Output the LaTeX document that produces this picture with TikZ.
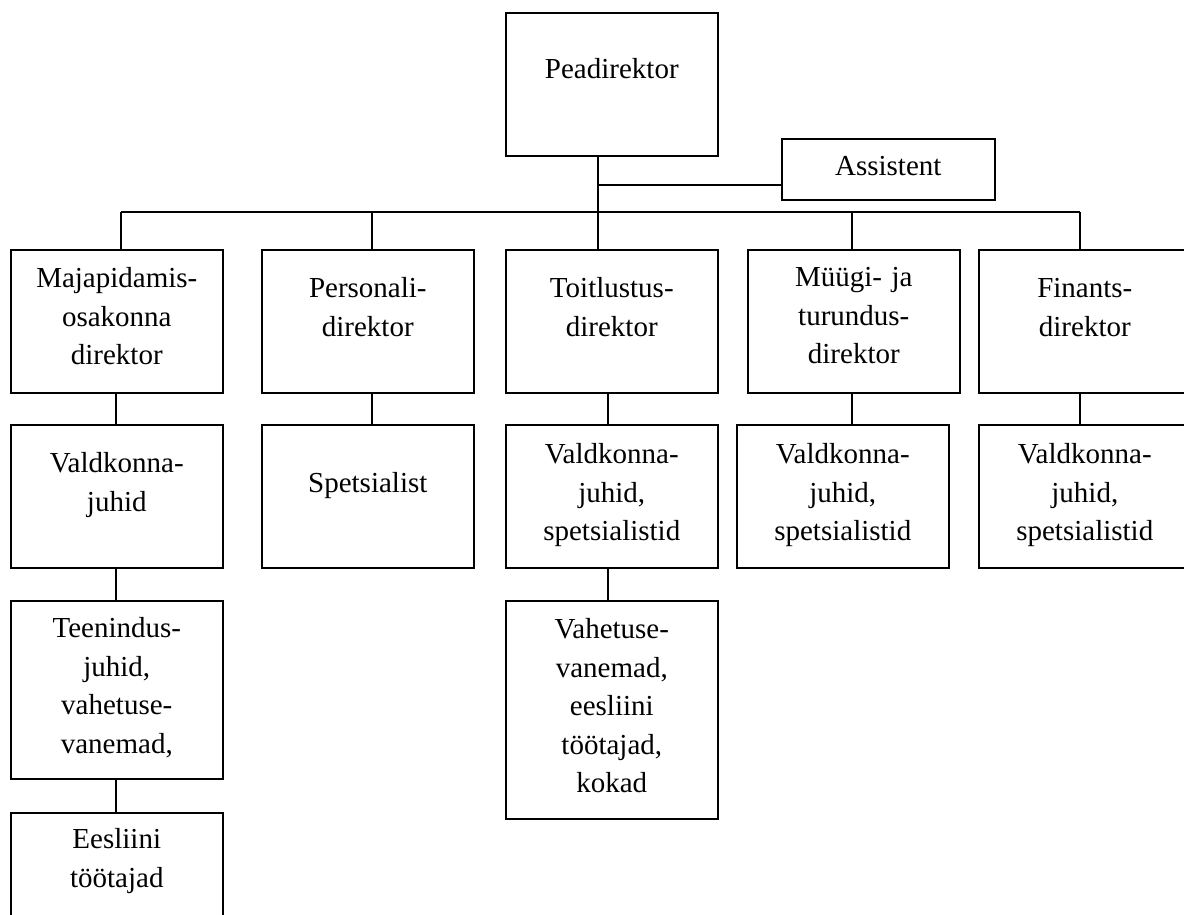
\documentclass[tikz,border=0pt]{standalone}
\usepackage{fontspec}
\setmainfont{Liberation Serif}
\usepackage{xcolor}
\usetikzlibrary{positioning, calc}

\tikzset{
	box/.style 2 args={draw, line width=1.6pt, anchor=north west, inner sep=0pt,
		text width=212pt, align=center, font=\fontsize{29}{38.5}\selectfont,
		text height=#1, text depth=#2},
	link/.style={line width=1.6pt}
}

\begin{document}
\begin{tikzpicture}[x=1pt, y=-1pt]
		\useasboundingbox (0,0) rectangle (1184,915);

		\node[box={66pt}{77pt}] (Peadirektor) at (505,12) {Peadirektor};
		\node[box={37pt}{24pt}, text width=213pt] (Assistent) at (781,138) {Assistent};

		\node[box={38pt}{105pt}] (Majapidamis) at (10,249) {Majapidamis-\\osakonna\\direktor};
		\node[box={48pt}{95pt}] (Personali) at (261,249) {Personali-\\direktor};
		\node[box={48pt}{95pt}] (Toitlustus) at (505,249) {Toitlustus-\\direktor};
		\node[box={37pt}{106pt}] (Muugi) at (747,249) {Müügi- ja\\turundus-\\direktor};
		\node[box={48pt}{95pt}] (Finants) at (978,249) {Finants-\\direktor};

		\node[box={48pt}{95pt}] (MajValdkond) at (10,424) {Valdkonna-\\juhid};
		\node[box={68pt}{75pt}] (Spetsialist) at (261,424) {Spetsialist};
		\node[box={39pt}{104pt}] (ToitValdkond) at (505,424) {Valdkonna-\\juhid,\\spetsialistid};
		\node[box={39pt}{104pt}] (MuugiValdkond) at (736,424) {Valdkonna-\\juhid,\\spetsialistid};
		\node[box={39pt}{104pt}] (FinValdkond) at (978,424) {Valdkonna-\\juhid,\\spetsialistid};

		\node[box={37pt}{141pt}] (Teenindus) at (10,600) {Teenindus-\\juhid,\\vahetuse-\\vanemad,};
		\node[box={38pt}{180pt}] (Vahetus) at (505,600) {Vahetuse-\\vanemad,\\eesliini\\töötajad,\\kokad};

		\node[box={36pt}{84pt}] (Eesliini) at (10,812) {Eesliini\\töötajad};

		\coordinate (jaotus) at (598,212);
		\coordinate (abi) at (598,185);

		\draw[link] (Peadirektor.south -| jaotus) to (jaotus);
		\draw[link] (abi) to (abi -| Assistent.west);
		\draw[link] (121,212) to (1080,212);

		\foreach \n/\x in {Majapidamis/121, Personali/372, Toitlustus/598, Muugi/852, Finants/1080}
			\draw[link] (\x,212) to (\n.north -| \x,0);

		\foreach \a/\b/\x in {Majapidamis/MajValdkond/116, Personali/Spetsialist/372,
				Toitlustus/ToitValdkond/608, Muugi/MuugiValdkond/852, Finants/FinValdkond/1080,
				MajValdkond/Teenindus/116, ToitValdkond/Vahetus/608, Teenindus/Eesliini/116}
			\draw[link] (\a.south -| \x,0) to (\b.north -| \x,0);
	\end{tikzpicture}
\end{document}
